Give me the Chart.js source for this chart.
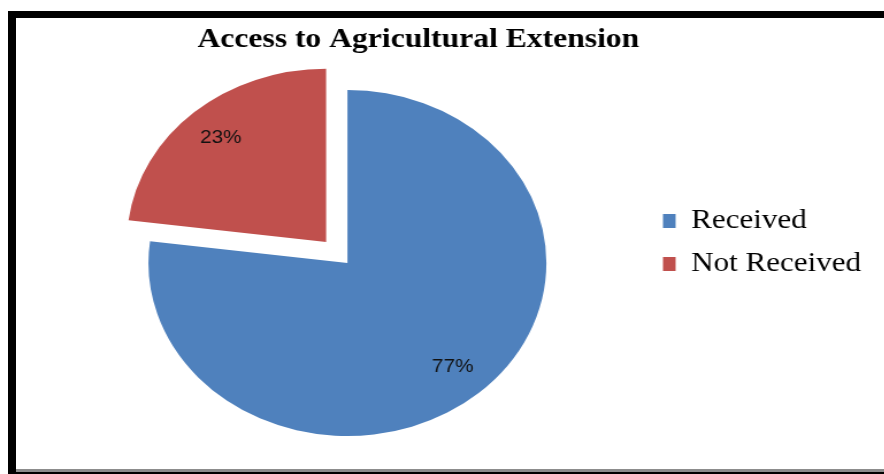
<!DOCTYPE html>
<html>
<head>
<meta charset="utf-8">
<script src="https://cdn.jsdelivr.net/npm/chart.js@4.4.1/dist/chart.umd.min.js"></script>
<style>
  html, body { margin: 0; padding: 0; background: #fff; }
  #page { position: relative; width: 884px; height: 474px; overflow: hidden; }
  #frame { position: absolute; left: 8px; top: 11px; width: 900px; height: 463px; background: #000; }
  #inner { position: absolute; left: 16px; top: 18px; width: 900px; height: 451px; background: #fff; }
  #shade { position: absolute; left: 16px; top: 469px; width: 900px; height: 3px; background: #8c8c8c; }
  #pie { position: absolute; left: 0; top: 0; width: 769px; height: 474px;
         transform: scaleX(1.15); transform-origin: 0 0; }
</style>
</head>
<body>
<div id="page">
  <div id="frame"></div>
  <div id="inner"></div>
  <div id="shade"></div>
  <canvas id="pie" width="769" height="474"></canvas>
</div>
<script>
var categories = ['Received', 'Not Received'];
var shares = [77, 23];
var shareLabels = ['77%', '23%'];
var sliceColors = ['#4f81bd', '#c0504d'];

var EXPLODE = 112;      // arc offset, chart.js moves the slice by a quarter of this
var TITLE_SHIFT = 61.7; // title sits a bit right of the pie centre

// percentage text inside each slice
var sliceLabels = {
    id: 'sliceLabels',
    afterDatasetsDraw: function (chart) {
        var ctx = chart.ctx;
        var meta = chart.getDatasetMeta(0);
        ctx.save();
        ctx.font = '18px "Liberation Sans"';
        ctx.fillStyle = '#111';
        ctx.textAlign = 'center';
        ctx.textBaseline = 'middle';
        meta.data.forEach(function (arc, i) {
            var p = arc.getProps(['x', 'y', 'startAngle', 'endAngle', 'outerRadius'], true);
            var mid = (p.startAngle + p.endAngle) / 2;
            var r = p.outerRadius * 0.8 + (arc.options.offset || 0) / 4;
            ctx.fillText(shareLabels[i], p.x + Math.cos(mid) * r, p.y + Math.sin(mid) * r);
        });
        ctx.restore();
    }
};

// center the title over pie + legend like the excel original
var titleCentre = {
    id: 'titleCentre',
    afterLayout: function (chart) {
        var t = chart.titleBlock;
        var mid = (chart.chartArea.left + chart.chartArea.right) / 2 + TITLE_SHIFT;
        t.right = 2 * mid - t.left;
        t.width = t.right - t.left;
    }
};

var ctx = document.getElementById('pie').getContext('2d');

var pieChart = new Chart(ctx, {
    type: 'pie',
    data: {
        labels: categories,
        datasets: [{
            data: shares,
            backgroundColor: sliceColors,
            borderWidth: 0,
            offset: [0, EXPLODE],
            radius: 173
        }]
    },
    options: {
        responsive: false,
        maintainAspectRatio: false,
        animation: false,
        layout: {
            padding: { top: 20, bottom: 9, left: 43.7, right: 10.3 }
        },
        plugins: {
            title: {
                display: true,
                text: 'Access to Agricultural Extension',
                color: '#000',
                font: { family: '"Liberation Serif"', size: 27.5, weight: 'bold' },
                padding: { top: 3.7, bottom: 4.3 }
            },
            legend: {
                position: 'right',
                labels: {
                    color: '#000',
                    font: { family: '"Liberation Serif"', size: 27 },
                    boxWidth: 11,
                    boxHeight: 14,
                    padding: 16
                }
            },
            tooltip: { enabled: false }
        }
    },
    plugins: [sliceLabels, titleCentre]
});
</script>
</body>
</html>
